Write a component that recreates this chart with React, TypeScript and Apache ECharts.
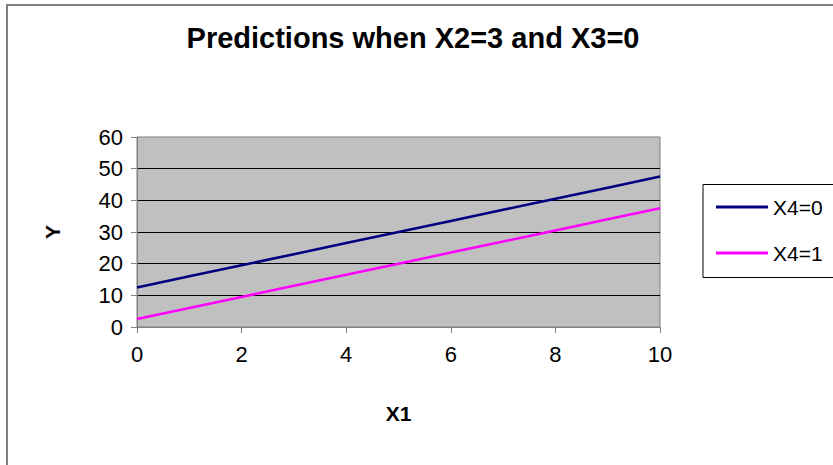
import React, { useEffect, useRef } from "react";
import * as echarts from "echarts";

const titleText = "Predictions when X2=3 and X3=0";
const xName = "X1";
const yName = "Y";
const x1Values = [0, 1, 2, 3, 4, 5, 6, 7, 8, 9, 10];
const seriesNames = ["X4=0", "X4=1"];
const yX40 = [12.5, 16, 19.5, 23, 26.5, 30, 33.5, 37, 40.5, 44, 47.5];
const yX41 = [2.5, 6, 9.5, 13, 16.5, 20, 23.5, 27, 30.5, 34, 37.5];

const FONT = "'Liberation Sans', Arial, Helvetica, sans-serif";

export default function App() {
  const ref = useRef<HTMLDivElement>(null);
  useEffect(() => {
    if (!ref.current) return;
    const chart = echarts.init(ref.current, null, { renderer: "svg" });
    const axisGrey = "#808080";
    chart.setOption({
      animation: false,
      backgroundColor: "#ffffff",
      textStyle: { fontFamily: FONT },
      grid: {
        left: 137,
        right: 173,
        top: 137,
        bottom: 138,
        show: true,
        backgroundColor: "#C0C0C0",
        borderColor: axisGrey,
        borderWidth: 1,
      },
      xAxis: {
        type: "value",
        min: 0,
        max: 10,
        interval: 2,
        name: xName,
        nameLocation: "middle",
        nameGap: 76,
        nameTextStyle: { fontFamily: FONT, fontSize: 21, fontWeight: "bold", color: "#000" },
        axisLine: { show: true, lineStyle: { color: axisGrey, width: 1 } },
        axisTick: { show: true, length: 6, lineStyle: { color: axisGrey } },
        axisLabel: { fontFamily: FONT, fontSize: 22, color: "#000", margin: 16 },
        splitLine: { show: false },
      },
      yAxis: {
        type: "value",
        min: 0,
        max: 60,
        interval: 10,
        name: yName,
        nameLocation: "middle",
        nameGap: 74,
        nameTextStyle: { fontFamily: FONT, fontSize: 21, fontWeight: "bold", color: "#000" },
        axisLine: { show: true, lineStyle: { color: axisGrey, width: 1 } },
        axisTick: { show: true, length: 6, lineStyle: { color: axisGrey } },
        axisLabel: { fontFamily: FONT, fontSize: 22, color: "#000", margin: 14 },
        splitLine: {
          show: true,
          showMinLine: false,
          showMaxLine: false,
          lineStyle: { color: "#000", width: 1 },
        },
      },
      legend: {
        orient: "vertical",
        left: 716,
        top: 195,
        padding: 0,
        itemGap: 22,
        itemWidth: 52,
        itemHeight: 3,
        itemStyle: { borderWidth: 0 },
        textStyle: { fontFamily: FONT, fontSize: 21, color: "#000", lineHeight: 24, padding: [0, 0, 0, 0] },
        data: [
          { name: seriesNames[0], icon: "rect" },
          { name: seriesNames[1], icon: "rect" },
        ],
      },
      graphic: [
        {
          type: "rect",
          shape: { x: 7, y: 5, width: 900, height: 600 },
          style: { fill: "none", stroke: axisGrey, lineWidth: 2 },
          silent: true,
          z: 100,
        },
        {
          type: "rect",
          shape: { x: 703, y: 184.5, width: 200, height: 93 },
          style: { fill: "#fff", stroke: "#000", lineWidth: 1 },
          silent: true,
          z: -1,
        },
        {
          type: "text",
          x: 413,
          y: 38,
          style: {
            text: titleText,
            fontFamily: FONT,
            fontSize: 29,
            fontWeight: "bold",
            fill: "#000",
            textAlign: "center",
            textVerticalAlign: "middle",
          },
        },
      ],
      series: [
        {
          name: seriesNames[0],
          type: "line",
          data: x1Values.map((x, i) => [x, yX40[i]]),
          showSymbol: false,
          symbol: "none",
          lineStyle: { color: "#000080", width: 2.5 },
          itemStyle: { color: "#000080" },
        },
        {
          name: seriesNames[1],
          type: "line",
          data: x1Values.map((x, i) => [x, yX41[i]]),
          showSymbol: false,
          symbol: "none",
          lineStyle: { color: "#FF00FF", width: 2.5 },
          itemStyle: { color: "#FF00FF" },
        },
      ],
    });
    return () => chart.dispose();
  }, []);
  return (
    <div
      ref={ref}
      style={{ position: "fixed", left: 0, top: 0, width: 833, height: 465 }}
    />
  );
}
